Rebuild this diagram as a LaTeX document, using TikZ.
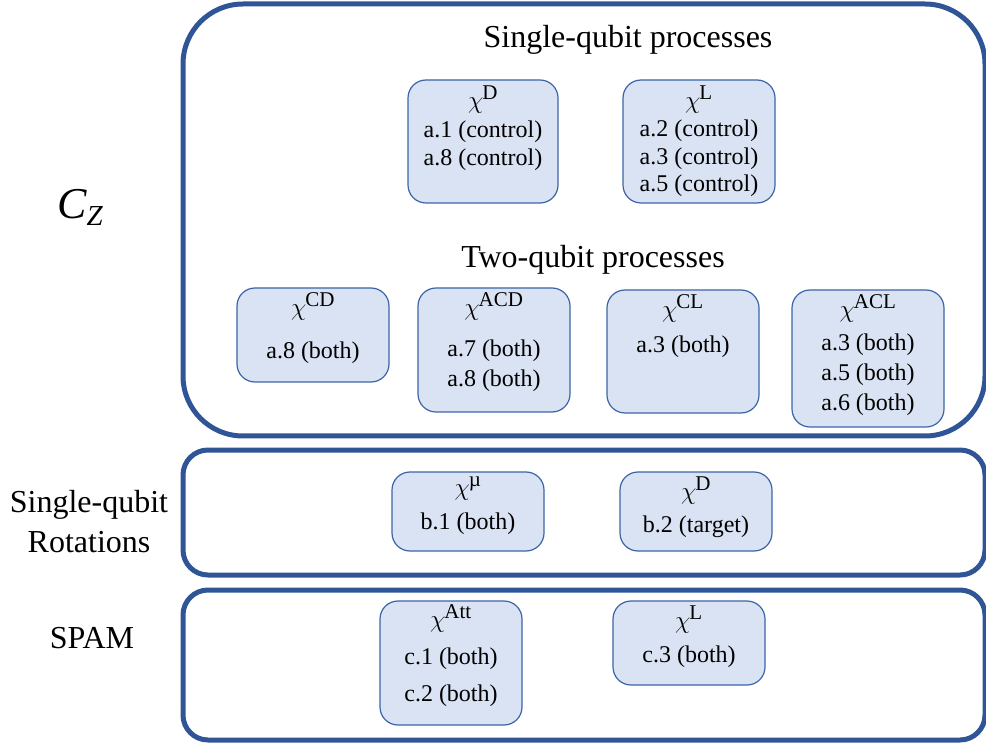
\documentclass[tikz,border=0pt]{standalone}
\usepackage{fontspec}
\setmainfont{Liberation Serif}
\definecolor{outerblue}{HTML}{2F5597}
\definecolor{innerfill}{HTML}{DAE3F3}
\definecolor{innerline}{HTML}{3C64A8}
\newcommand\chisup[1]{{\fontsize{30}{30}\selectfont$\chi$\kern-1pt\textsuperscript{\upshape #1}}}
\begin{document}
\begin{tikzpicture}[x=1pt,y=-1pt,
  outerbox/.style={draw=outerblue, line width=5pt, fill=white},
  ibox/.style={draw=innerline, line width=1.2pt, fill=innerfill, rounded corners=18pt, minimum width=152pt, inner sep=0pt},
  content/.style={anchor=north, align=center, inner sep=0pt, font=\fontsize{24}{29}\selectfont},
  title/.style={font=\fontsize{32}{36}\selectfont},
  side/.style={font=\fontsize{32}{40}\selectfont, align=center}]
\useasboundingbox (0,0) rectangle (986,743);
% outer boxes
\draw[outerbox, rounded corners=60pt] (183,4) rectangle (985,436);
\draw[outerbox, rounded corners=25pt] (183,450) rectangle (985,575);
\draw[outerbox, rounded corners=25pt] (183,590) rectangle (985,740);
% titles
\node[title] (t1) at (628,40) {Single-qubit processes};
\node[title] (t2) at (593,260) {Two-qubit processes};
% side labels
\node[font=\fontsize{44}{44}\selectfont] (cz) at (80,207) {{\itshape C}\raisebox{-0.35ex}{\fontsize{29}{29}\selectfont\itshape Z}};
\node[side] (rot) at (89,522) {Single-qubit\\Rotations};
\node[side] (spam) at (92,638) {SPAM};
% inner boxes
\node[ibox, minimum width=150pt, minimum height=123pt] (bD) at (483,141.5) {};
\node[content] (cD) at (483,86) {\chisup{D}\\a.1 (control)\\[-1pt]a.8 (control)};
\node[ibox, minimum height=123pt] (bL) at (699,141.5) {};
\node[content] (cL) at (699,86) {\chisup{L}\\[-1pt]a.2 (control)\\[-1.5pt]a.3 (control)\\[-1.5pt]a.5 (control)};
\node[ibox, minimum height=94pt] (bCD) at (313,335) {};
\node[content] (cCD) at (313,292) {\chisup{CD}\\[14pt]a.8 (both)};
\node[ibox, minimum height=124pt] (bACD) at (494,350) {};
\node[content] (cACD) at (494,292) {\chisup{ACD}\\[12pt]a.7 (both)\\[1pt]a.8 (both)};
\node[ibox, minimum height=123pt] (bCL) at (683,351.5) {};
\node[content] (cCL) at (683,294) {\chisup{CL}\\[6pt]a.3 (both)};
\node[ibox, minimum height=137pt] (bACL) at (868,358.5) {};
\node[content] (cACL) at (868,294) {\chisup{ACL}\\[4pt]a.3 (both)\\[1pt]a.5 (both)\\[1pt]a.6 (both)};
\node[ibox, minimum height=79pt] (bMu) at (468,511.5) {};
\node[content] (cMu) at (468,477) {\chisup{µ}\\[5pt]b.1 (both)};
\node[ibox, minimum height=79pt] (bDb) at (696,511.5) {};
\node[content] (cDb) at (696,477) {\chisup{D}\\[4pt]b.2 (target)};
\node[ibox, minimum width=142pt, minimum height=124pt] (bAtt) at (451,663) {};
\node[content] (cAtt) at (451,604) {\chisup{Att}\\[8pt]c.1 (both)\\[8pt]c.2 (both)};
\node[ibox, minimum height=84pt] (bLc) at (689,643) {};
\node[content] (cLc) at (689,606) {\chisup{L}\\[5pt]c.3 (both)};
\end{tikzpicture}
\end{document}
